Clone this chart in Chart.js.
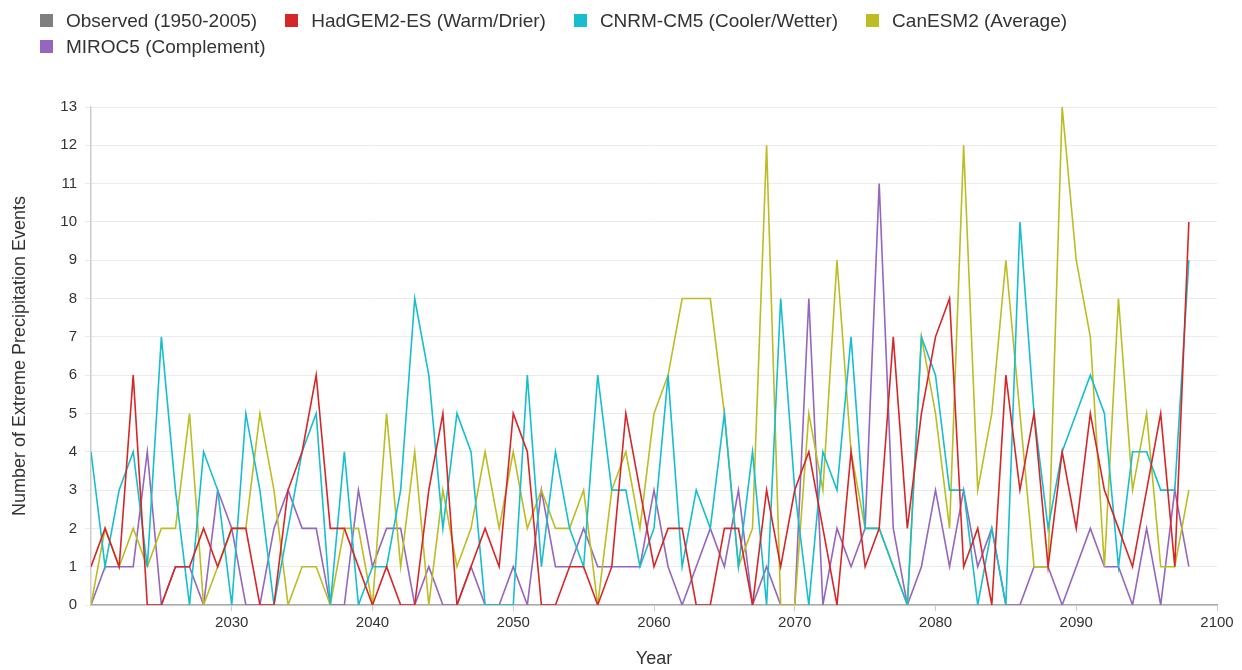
<!DOCTYPE html>
<html>
<head>
<meta charset="utf-8">
<script src="https://cdn.jsdelivr.net/npm/chart.js@4/dist/chart.umd.min.js"></script>
<style>
  body { margin: 0; background: #fff; }
  #wrap { position: relative; width: 1242px; height: 670px; }
  #legend {
    position: absolute; top: 11px; left: 40px; width: 1150px;
    display: flex; flex-wrap: wrap; row-gap: 7px;
    font-family: "Liberation Sans", Arial, sans-serif; font-size: 19px; color: #333;
  }
  .item { display: flex; align-items: center; margin-right: 28px; line-height: 19px; }
  .box { width: 13px; height: 13px; margin-right: 13px; }
</style>
</head>
<body>
<div id="wrap">
  <canvas id="canvas" width="1242" height="670"></canvas>
  <div id="legend"></div>
</div>
<script>
// years 2020..2098
const years = [];
for (let y = 2020; y <= 2098; y++) years.push(y);

const seriesNames = ['Observed (1950-2005)', 'HadGEM2-ES (Warm/Drier)', 'CNRM-CM5 (Cooler/Wetter)', 'CanESM2 (Average)', 'MIROC5 (Complement)'];
const seriesColors = ['#7f7f7f', '#d62728', '#17becf', '#bcbd22', '#9467bd'];

// observed series has no values in the projection window
const observed = [];

const hadgem = [1,2,1,6,0,0,1,1,2,1, 2,2,0,0,3,4,6,2,2,1,
                0,1,0,0,3,5,0,1,2,1, 5,4,0,0,1,1,0,1,5,3,
                1,2,2,0,0,2,2,0,3,1, 3,4,2,0,4,1,2,7,2,5,
                7,8,1,2,0,6,3,5,1,4, 2,5,3,2,1,3,5,1,10];

const cnrm = [4,1,3,4,1,7,3,0,4,3, 0,5,3,0,2,4,5,0,4,0,
              1,1,3,8,6,2,5,4,0,0, 0,6,1,4,2,1,6,3,3,1,
              2,6,1,3,2,5,1,4,0,8, 3,0,4,3,7,2,2,1,0,7,
              6,3,3,0,2,0,10,5,2,4, 5,6,5,1,4,4,3,3,9];

const canesm = [0,2,1,2,1,2,2,5,0,1, 2,2,5,3,0,1,1,0,2,2,
                0,5,1,4,0,3,1,2,4,2, 4,2,3,2,2,3,0,3,4,2,
                5,6,8,8,8,5,1,2,12,0, 0,5,3,9,4,2,2,1,0,7,
                5,2,12,3,5,9,5,1,1,13, 9,7,1,8,3,5,1,1,3];

const miroc = [0,1,1,1,4,0,1,1,0,3, 2,0,0,2,3,2,2,0,0,3,
               1,2,2,0,1,0,0,1,0,0, 1,0,3,1,1,2,1,1,1,1,
               3,1,0,1,2,1,3,0,1,0, 0,8,0,2,1,2,11,2,0,1,
               3,1,3,1,2,0,0,1,1,0, 1,2,1,1,0,2,0,3,1];

const yTicks = [0,1,2,3,4,5,6,7,8,9,10,11,12,13];

const allData = [observed, hadgem, cnrm, canesm, miroc];

// legend
const legend = document.getElementById('legend');
seriesNames.forEach((name, i) => {
    const item = document.createElement('div');
    item.className = 'item';
    item.innerHTML = '<span class="box" style="background:' + seriesColors[i] + '"></span><span>' + name + '</span>';
    legend.appendChild(item);
});

const datasets = seriesNames.map((name, i) => ({
    label: name,
    data: allData[i],
    borderColor: seriesColors[i],
    backgroundColor: seriesColors[i],
    borderWidth: 1.6,
    pointRadius: 0,
    tension: 0,
    fill: false
}));

const fontFamily = '"Liberation Sans", Arial, sans-serif';

let ctx = document.getElementById('canvas').getContext('2d');
let chart = new Chart(ctx, {
    type: 'line',
    data: { labels: years, datasets: datasets },
    options: {
        responsive: false,
        animation: false,
        layout: { padding: { top: 107, right: 25, bottom: 0, left: 0 } },
        plugins: { legend: { display: false }, tooltip: { enabled: false } },
        scales: {
            x: {
                type: 'linear',
                min: 2020,
                max: 2100,
                ticks: {
                    stepSize: 10,
                    padding: 3,
                    color: '#333',
                    font: { family: fontFamily, size: 15 },
                    callback: v => String(v)
                },
                afterBuildTicks: scale => { scale.ticks = scale.ticks.filter(t => t.value !== 2020); },
                grid: { drawOnChartArea: false, drawTicks: true, tickLength: 6, color: '#ccc' },
                border: { color: '#aaa', width: 1.5 },
                title: { display: true, text: 'Year', color: '#333', font: { family: fontFamily, size: 18 }, padding: { top: 0, bottom: 0 } },
                afterFit: scale => { scale.height = 65; }
            },
            y: {
                min: 0,
                max: 13,
                afterBuildTicks: scale => { scale.ticks = yTicks.map(v => ({ value: v })); },
                ticks: {
                    padding: 8,
                    color: '#333',
                    font: { family: fontFamily, size: 15 }
                },
                grid: { color: '#ebebeb', tickLength: 6 },
                border: { color: '#ccc', width: 1.5 },
                title: { display: true, text: 'Number of Extreme Precipitation Events', color: '#333', font: { family: fontFamily, size: 18 }, padding: { top: 9, bottom: 0 } },
                afterFit: scale => { scale.width = 91; }
            }
        }
    }
});
</script>
</body>
</html>
